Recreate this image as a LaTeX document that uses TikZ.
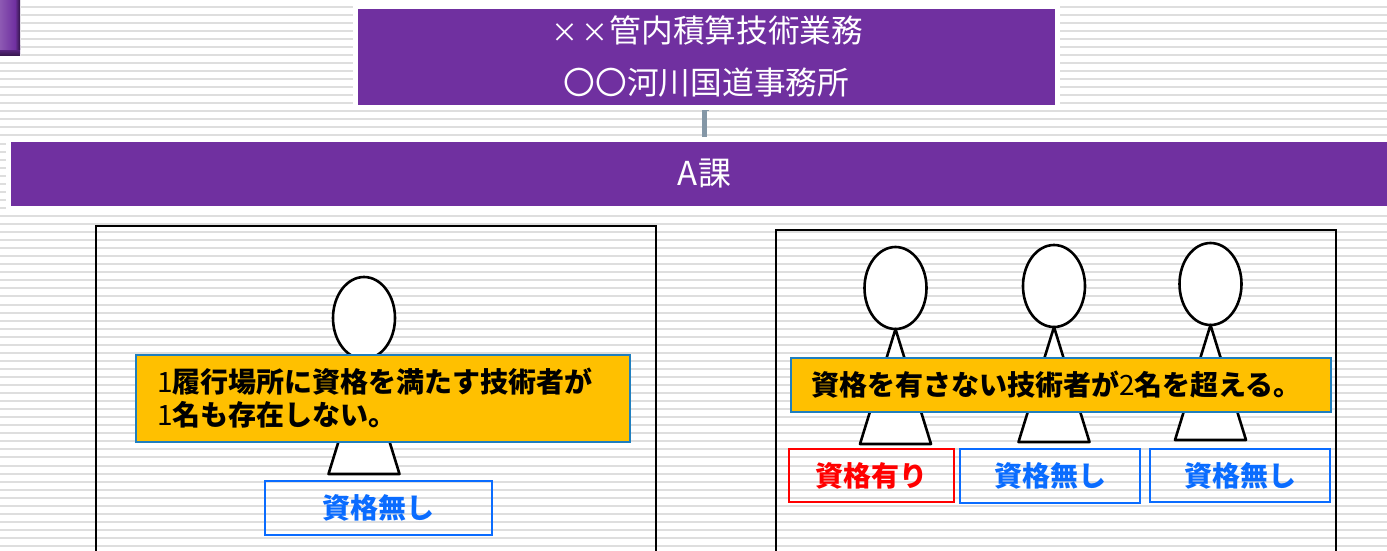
\documentclass[tikz,border=0pt]{standalone}
\usepackage{fontspec}
\setmainfont{Noto Sans CJK JP}
\usepackage{tikz}
\usetikzlibrary{positioning,shapes.geometric}

\definecolor{barpurple}{HTML}{7030A0}
\definecolor{notegold}{HTML}{FFC000}
\definecolor{noteedge}{HTML}{1F7FBF}
\definecolor{noblue}{HTML}{0A6CFF}
\definecolor{linkgrey}{HTML}{8497A6}

\newcommand{\smallcross}{\makebox[30pt]{\fontsize{27}{52}\selectfont ×}}

\begin{document}
\begin{tikzpicture}[x=1pt,y=-1pt,semithick,outer sep=0pt,
    bar/.style={fill=barpurple,text=white,font=\fontsize{31.7}{52}\selectfont,inner sep=0pt,align=center},
    frame/.style={draw,line width=2.4pt,minimum width=560pt,minimum height=400pt,anchor=north west},
    head/.style={ellipse,draw,fill=white,line width=2.6pt,minimum width=62pt,minimum height=82pt,inner sep=0pt},
    note/.style={draw=noteedge,fill=notegold,line width=1.6pt,anchor=north west,inner ysep=0pt,align=left,
      font=\fontsize{28}{33}\selectfont\bfseries},
    tag/.style={draw=#1,text=#1,line width=1.6pt,anchor=north west,inner sep=0pt,
      font=\fontsize{28}{30}\selectfont\bfseries},
    link/.style={draw=linkgrey,line width=5pt}]

  \useasboundingbox (0,0) rectangle (1387,551);
  \clip (0,0) rectangle (1387,551);

  % stripes
  \foreach \i in {0,...,68}
    \fill[black!13] (0,{-2.4+8.05*\i}) rectangle (1387,{-0.4+8.05*\i});
  \fill[white] (353,3) rectangle (1060,108);
  \fill[white] (6,139) rectangle (1387,211);

  % corner tile
  \fill[white] (0,0) rectangle (21,57);
  \fill[barpurple!45!black] (0,0) rectangle (20,56);
  \shade[top color=barpurple,bottom color=barpurple!45!black] (0,46) rectangle (20,56);
  \shade[left color=barpurple!80!white,right color=barpurple] (0,0) rectangle (15,50);
  \shade[left color=barpurple,right color=barpurple!45!black] (15,0) rectangle (20,50);

  % titles
  \node[bar,minimum width=697pt,minimum height=96pt] (office) at (706.5,57)
    {\smallcross\smallcross 管内積算技術業務\\〇〇河川国道事務所};
  \node[bar,minimum width=1376pt,minimum height=64pt,font=\fontsize{33}{40}\selectfont] (section) at (699,174)
    {\hspace*{11pt}A課};
  \coordinate (linktop) at (704.5,110);
  \coordinate (linkend) at (704.5,137);
  \draw[link] (linktop) -- (linkend);
  \draw[link,line width=1.5pt] (linktop) ++(-2.5,0.7) -- ++(7,0);

  % frames
  \node[frame] (leftframe) at (96,226) {};
  \node[frame] (rightframe) at (776,230) {};

  % people
  \foreach \name/\x/\y in {pa/364/318,pb/895.5/288,pc/1054/286,pd/1210.5/284}{
    \node[head] (\name) at (\x,\y) {};
    \draw[line width=2.6pt,fill=white,line join=round] (\name.south) -- ++(-35.5,115) -- ++(71,0) -- cycle;
  }

  % notes
  \node[note,minimum height=87pt,text width=452pt,inner xsep=21pt] (noteleft) at (136,355)
    {{\mdseries 1}履行場所に資格を満たす技術者が\\{\mdseries 1}名も存在しない。};
  \node[note,minimum height=54pt,text width=500pt,inner xsep=20pt] (noteright) at (791,358)
    {資格を有さない技術者が{\mdseries 2}名を超える。};

  % tags
  \node[tag=noblue,minimum width=227pt,minimum height=54pt] (taga) at (265,481) {資格無し};
  \node[tag=red,minimum width=165pt,minimum height=53pt] (tagb) at (789,449) {資格有り};
  \node[tag=noblue,minimum width=180pt,minimum height=54pt] (tagc) at (960,449) {資格無し};
  \node[tag=noblue,minimum width=180pt,minimum height=53pt] (tagd) at (1150,449) {資格無し};
\end{tikzpicture}
\end{document}
